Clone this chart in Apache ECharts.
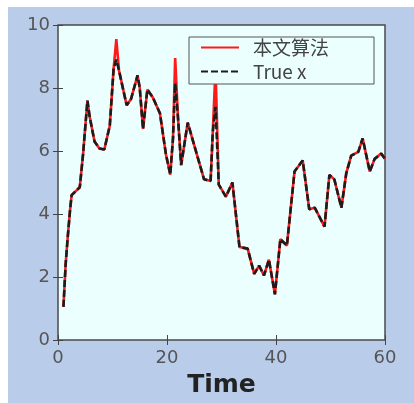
<!DOCTYPE html>
<html>
<head>
<meta charset="utf-8">
<script src="https://cdn.jsdelivr.net/npm/echarts@6/dist/echarts.min.js"></script>
<style>
  html, body { margin: 0; padding: 0; background: #fff; }
  #chart { position: absolute; left: 8px; top: 7px; width: 406px; height: 396px; background: #b9cdea; }
</style>
</head>
<body>
<div id="chart"></div>
<script>
const times = [1, 1.4, 1.8, 2.2, 2.5, 4, 4.6, 5.4, 5.8, 6.7, 7.6, 8.5, 9.5, 10.2, 10.7, 11.2, 12.6, 13.4, 14.6, 15.0,
  15.6, 16.4, 17.4, 18.7, 19.8, 20.6, 21.1, 21.5, 22.0, 22.6, 23.8, 26.8, 28.0, 28.4, 28.9, 29.5, 30.8, 32.0, 33.3, 34.8,
  36.0, 36.9, 37.8, 38.7, 39.8, 40.8, 42.0, 43.4, 44.9, 46.1, 47.1, 48.9, 49.8, 50.7, 52.0, 52.9, 53.8, 55.1, 55.9, 57.2,
  58.1, 59.3, 60];
const trueX = [1.05, 2.4, 3.3, 4.1, 4.6, 4.85, 5.9, 7.6, 7.1, 6.3, 6.08, 6.05, 6.8, 8.6, 8.9, 8.55, 7.45, 7.65, 8.4, 8.0,
  6.7, 7.95, 7.7, 7.2, 5.9, 5.25, 6.4, 8.15, 7.1, 5.55, 6.9, 5.1, 5.05, 6.6, 7.4, 4.93, 4.55, 5.0, 2.95, 2.9,
  2.1, 2.36, 2.05, 2.55, 1.45, 3.2, 3.0, 5.35, 5.7, 4.15, 4.2, 3.6, 5.24, 5.1, 4.2, 5.3, 5.85, 5.97, 6.4, 5.35,
  5.75, 5.92, 5.75];
const estX = [1.05, 2.4, 3.3, 4.1, 4.6, 4.85, 5.9, 7.6, 7.1, 6.3, 6.08, 6.05, 6.8, 8.6, 9.55, 8.55, 7.45, 7.65, 8.4, 8.0,
  6.7, 7.95, 7.7, 7.2, 5.9, 5.25, 6.4, 8.95, 7.1, 5.55, 6.9, 5.1, 5.05, 6.6, 8.6, 4.93, 4.55, 5.0, 2.95, 2.9,
  2.1, 2.36, 2.05, 2.55, 1.45, 3.2, 3.0, 5.35, 5.7, 4.15, 4.2, 3.6, 5.24, 5.1, 4.2, 5.3, 5.85, 5.97, 6.4, 5.35,
  5.75, 5.92, 5.75];
const xTicks = [0, 20, 40, 60];
const yTicks = [0, 2, 4, 6, 8, 10];

const myChart = echarts.init(document.getElementById('chart'));

const font = 'DejaVu Sans, Arial, sans-serif';
const tick = { show: true, inside: true, length: 5, lineStyle: { color: '#444', width: 1 } };

let option = {
  backgroundColor: 'transparent',
  animation: false,
  grid: {
    left: 50, top: 18, width: 327, height: 318,
    show: true, backgroundColor: '#ebffff', borderColor: '#4a4a4a', borderWidth: 1.5
  },
  legend: {
    left: 181, top: 30,
    orient: 'vertical',
    backgroundColor: '#ebffff',
    borderColor: '#555', borderWidth: 1,
    padding: [1, 45, 3, 11],
    itemWidth: 38, itemHeight: 14, itemGap: 5,
    itemStyle: { opacity: 0 },
    textStyle: {
      fontFamily: '"Noto Sans CJK SC", ' + font, fontSize: 19, lineHeight: 18,
      color: '#444', padding: [0, 0, 0, 9]
    },
    data: ['本文算法', 'True x']
  },
  xAxis: [{
    type: 'value', min: xTicks[0], max: xTicks[xTicks.length - 1], interval: 20,
    name: 'Time', nameLocation: 'middle', nameGap: 33,
    nameTextStyle: { fontFamily: font, fontSize: 25, fontWeight: 'bold', color: '#222' },
    axisLine: { show: false }, axisTick: tick, splitLine: { show: false },
    axisLabel: { fontFamily: font, fontSize: 18, color: '#555', margin: 9 }
  }, {
    type: 'value', position: 'top', min: 0, max: 60, interval: 20,
    axisLine: { show: false }, axisTick: tick, splitLine: { show: false }, axisLabel: { show: false }
  }],
  yAxis: [{
    type: 'value', min: yTicks[0], max: yTicks[yTicks.length - 1], interval: 2,
    axisLine: { show: false }, axisTick: tick, splitLine: { show: false },
    axisLabel: { fontFamily: font, fontSize: 18, color: '#555', margin: 8 }
  }, {
    type: 'value', position: 'right', min: 0, max: 10, interval: 2,
    axisLine: { show: false }, axisTick: tick, splitLine: { show: false }, axisLabel: { show: false }
  }],
  series: [{
    name: '本文算法',
    type: 'line',
    data: times.map((t, i) => [t, estX[i]]),
    symbol: 'none',
    lineStyle: { color: '#ff1a1a', width: 2.6 },
    itemStyle: { color: '#ff1a1a' }
  }, {
    name: 'True x',
    type: 'line',
    data: times.map((t, i) => [t, trueX[i]]),
    symbol: 'none',
    lineStyle: { color: '#1c1c1c', width: 2.6, type: [7, 3] },
    itemStyle: { color: '#1c1c1c' }
  }]
};
myChart.setOption(option);
</script>
</body>
</html>
